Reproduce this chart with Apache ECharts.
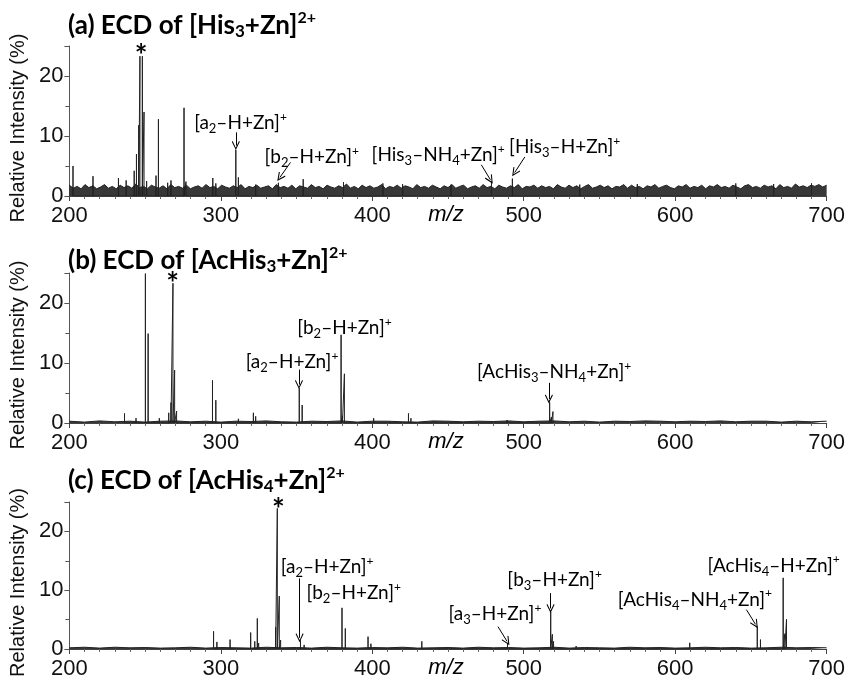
<!DOCTYPE html>
<html><head><meta charset="utf-8">
<script src="https://cdn.jsdelivr.net/npm/echarts@6/dist/echarts.min.js"></script>
<style>html,body{margin:0;padding:0;background:#fff}#c{width:848px;height:680px}</style>
</head><body><div id="c"></div>
<script>
// ---------- data ----------
const xTickValues = [200, 300, 400, 500, 600, 700];
const yTickValues = [0, 10, 20];

const panelTitles = [
  '{b|(a) ECD of [His}{bs|3}{b|+Zn]}{bp|2+}',
  '{b|(b) ECD of [AcHis}{bs|3}{b|+Zn]}{bp|2+}',
  '{b|(c) ECD of [AcHis}{bs|4}{b|+Zn]}{bp|2+}'
];

// peaks [m/z, relative intensity %]
const peaksA = [[202.4,5.0],[215.6,3.3],[232.4,3.0],[237.5,2.6],[242.8,4.2],[244.3,7.0],[245.8,11.8],[246.6,23.3],[248.2,23.3],[249.3,14.0],[251,2.5],[257.2,3.4],[258.8,12.8],[264.9,2.2],[267.1,2.6],[275.7,14.7],[277,2.4],[294.7,3.0],[296.7,2.1],[309.9,7.7],[311.6,3.1],[323,1.9],[338,2.2],[354.4,2.8],[381,2.3],[407,2.1],[420,2.0],[452,1.9],[478.7,2.4],[492.5,2.9],[537,1.9],[575,2.0],[640,2.1],[665,2.0],[690,2.1]];
const peaksB = [[236.4,1.6],[244,0.8],[250.2,24.9],[252,14.9],[259.4,0.8],[265.6,1.7],[267.1,3.4],[268.4,23.3],[269.5,8.8],[270.8,2.0],[294.5,7.1],[296.7,3.8],[311.6,0.7],[321.5,1.7],[323,1.1],[351.8,5.8],[353.7,3.0],[379.4,14.7],[380.3,1.2],[381.6,8.2],[400.9,0.8],[423.9,1.6],[425.5,0.8],[489,0.5],[517.1,3.45],[518.3,1.0],[519.3,1.9]];
const peaksC = [[295.2,3.0],[297.4,1.2],[306.1,1.6],[319.7,2.8],[322.4,1.3],[324.1,5.2],[325,1.0],[336.2,3.7],[337.3,23.9],[338.6,9.0],[339.5,1.5],[352.6,1.45],[355,0.7],[380,7.0],[382.2,3.5],[397.2,2.1],[399.1,0.9],[432.7,1.3],[489.3,1.05],[517.8,6.3],[518.9,2.5],[519.7,1.3],[534.6,0.5],[609.6,1.05],[654.2,3.8],[656.3,1.6],[671.3,12.1],[672.4,2.6],[673.5,5.05]];

// baseline noise level (upper edge), one value every 2.5 m/z from 200 to 700
const noiseA = [1.8,1.3,1.6,1.2,1.9,1.4,1.7,1.2,1.5,1.9,1.3,1.6,1.2,1.8,1.4,1.7,1.3,2.0,1.4,1.6,1.2,1.8,1.5,1.3,1.7,1.2,1.9,1.4,1.6,1.3,1.8,1.2,1.5,1.7,1.3,1.9,1.4,1.6,1.2,1.8,1.5,1.3,1.7,1.4,1.9,1.2,1.6,1.4,1.8,1.3,1.5,1.7,1.2,1.9,1.4,1.6,1.3,1.8,1.2,1.7,1.5,1.3,1.9,1.4,1.6,1.2,1.8,1.5,1.3,1.7,1.4,2.0,1.3,1.6,1.2,1.8,1.4,1.7,1.3,1.5,1.9,1.2,1.6,1.4,1.8,1.3,1.7,1.5,1.2,1.9,1.4,1.6,1.3,1.8,1.5,1.2,1.7,1.4,1.9,1.3,1.6,1.8,1.2,1.5,1.7,1.3,1.9,1.4,1.6,1.2,1.8,1.5,1.3,1.7,1.4,1.9,1.2,1.6,1.5,1.8,1.3,1.7,1.4,1.6,1.2,1.9,1.5,1.3,1.8,1.4,1.7,1.2,1.6,1.9,1.3,1.5,1.8,1.4,1.7,1.2,1.6,1.5,1.9,1.3,1.8,1.4,1.6,1.2,1.7,1.5,1.9,1.3,1.6,1.8,1.4,1.2,1.7,1.5,1.9,1.3,1.6,1.4,1.8,1.2,1.7,1.5,1.9,1.4,1.6,1.3,1.8,1.5,1.2,1.7,1.9,1.4,1.6,1.3,1.8,1.5,1.7,1.2,1.9,1.4,1.6,1.3,2.0,1.5,1.7,1.4,1.8,1.6,1.9,1.5,1.8];
const noiseB = [0.3,0.15,0.35,0.2,0.3,0.15,0.3,0.35,0.2,0.3,0.15,0.3,0.25,0.35,0.2,0.15,0.3,0.25,0.35,0.15,0.3,0.3,0.2,0.15,0.35,0.3,0.2,0.3,0.25,0.35,0.2,0.3,0.35,0.2,0.3,0.15,0.3,0.25,0.35,0.3,0.2,0.3,0.25,0.35,0.2,0.3,0.3,0.15,0.3,0.2,0.3];
const noiseC = [0.2,0.3,0.15,0.3,0.2,0.25,0.15,0.2,0.3,0.15,0.25,0.2,0.15,0.3,0.2,0.25,0.15,0.3,0.2,0.15,0.25,0.2,0.3,0.15,0.2,0.25,0.15,0.3,0.2,0.25,0.15,0.2,0.3,0.15,0.25,0.2,0.15,0.3,0.2,0.25,0.15,0.2,0.3,0.2,0.25,0.15,0.2,0.3,0.2,0.25,0.2];

// annotations: [label, m/z, intensity]
const labelsA = [['[a{s|2}–H+Zn]{p|+}',313,12.2],['[b{s|2}–H+Zn]{p|+}',360,6.55],['[His{s|3}–NH{s|4}+Zn]{p|+}',443.5,6.8],['[His{s|3}–H+Zn]{p|+}',527,8.2]];
const arrowsA = [[309.9,10.6,309.9,8.4],[346,5.6,339,3.1],[472,5.2,478,2.7],[500.7,6.5,494,3.9]];
const labelsB = [['[a{s|2}–H+Zn]{p|+}',347,10.2],['[b{s|2}–H+Zn]{p|+}',381.6,15.8],['[AcHis{s|3}–NH{s|4}+Zn]{p|+}',520,8.55]];
const arrowsB = [[351.6,8.9,351.6,6.4],[516.6,6.7,516.6,4.0]];
const labelsC = [['[a{s|2}–H+Zn]{p|+}',370.2,13.95],['[b{s|2}–H+Zn]{p|+}',387.7,9.5],['[a{s|3}–H+Zn]{p|+}',481,5.9],['[b{s|3}–H+Zn]{p|+}',520.4,11.7],['[AcHis{s|4}–NH{s|4}+Zn]{p|+}',613,8.4],['[AcHis{s|4}–H+Zn]{p|+}',665,14.2]];
const arrowsC = [[352,12,352,1.9],[483,3.8,489,1.3],[517.7,9.5,517.7,6.9],[647,6.7,653,4.2]];
const stars = [[247.4,24.6],[268.2,24.4],[338,25.0]];

// ---------- build ----------
function sticks(peaks) {
  const out = [];
  peaks.slice().sort((a,b)=>a[0]-b[0]).forEach(p => { out.push([p[0],0],[p[0],p[1]],[p[0],0]); });
  return out;
}
function noiseData(arr) {
  const step = 500 / (arr.length - 1);
  return arr.map((v,i)=>[200 + i*step, v]);
}
const tops = [46, 273, 502];
const gridH = 150;
const richSmall = {
  s: {fontSize: 13, fontFamily: 'Lato', padding: [12,0,0,0], color:'#000'},
  p: {fontSize: 12, fontFamily: 'Lato', padding: [0,0,12,0], color:'#000'}
};
const chev = 'path://M5,0 L10,9 L9,9.8 L5,2.6 L1,9.8 L0,9 Z';

const grids = [], xAxes = [], yAxes = [], series = [], titles = [];
const peaksAll = [peaksA, peaksB, peaksC];
const noiseAll = [noiseA, noiseB, noiseC];
const labelsAll = [labelsA, labelsB, labelsC];
const arrowsAll = [arrowsA, arrowsB, arrowsC];
const titleTops = [5, 240, 460];

for (let i = 0; i < 3; i++) {
  grids.push({left: 68, right: 20, top: tops[i], height: gridH});
  xAxes.push({
    type: 'value', gridIndex: i, min: 200, max: 700, interval: 100,
    name: 'm/z', nameLocation: 'middle', nameGap: 8, nameMoveOverlap: false,
    nameTextStyle: {fontFamily: 'Liberation Sans', fontStyle: 'italic', fontSize: 22, color: '#000', verticalAlign: 'top', padding:[0,0,0,-4]},
    axisLine: {lineStyle: {color: '#444', width: 1}},
    axisTick: {length: 5, lineStyle: {color: '#444'}},
    minorTick: {show: true, splitNumber: 10, length: 3, lineStyle: {color: '#666'}},
    splitLine: {show: false},
    axisLabel: {fontFamily: 'Liberation Sans', fontSize: 22, color: '#111', margin: 9,
      formatter: v => xTickValues.includes(v) ? String(v) : ''}
  });
  yAxes.push({
    type: 'value', gridIndex: i, min: 0, max: 25, interval: 10,
    name: 'Relative Intensity (%)', nameLocation: 'middle', nameGap: 24,
    nameTextStyle: {fontFamily: 'Liberation Sans', fontSize: 20, color: '#111', padding: [0,0,0,-14]},
    axisLine: {show: true, lineStyle: {color: '#555', width: 1}},
    axisTick: {show: true, length: 5, lineStyle: {color: '#555'}},
    minorTick: {show: true, splitNumber: 2, length: 4, lineStyle: {color: '#555'}},
    splitLine: {show: false},
    axisLabel: {fontFamily: 'Liberation Sans', fontSize: 22, color: '#111', margin: 6,
      formatter: v => yTickValues.includes(v) ? String(v) : ''}
  });
  titles.push({
    text: panelTitles[i], left: 63, top: titleTops[i],
    textStyle: {
      rich: {
        b: {fontFamily: 'Lato', fontWeight: 'bold', fontSize: 26, color: '#000'},
        bs: {fontFamily: 'Lato', fontWeight: 'bold', fontSize: 17, color: '#000', padding: [13,0,0,0]},
        bp: {fontFamily: 'Lato', fontWeight: 'bold', fontSize: 16, color: '#000', padding: [0,0,15,0]}
      }
    }
  });
  // noise band
  series.push({
    type: 'line', xAxisIndex: i, yAxisIndex: i, data: noiseData(noiseAll[i]),
    symbol: 'none', silent: true, animation: false,
    lineStyle: {color: '#222', width: 1},
    areaStyle: {color: '#222', opacity: 0.9}
  });
  const mp = labelsAll[i].map(l => ({
    coord: [l[1], l[2]],
    label: {formatter: l[0]}
  }));
  mp.push({coord: stars[i], label: {formatter: '*', fontSize: 30, fontWeight: 'bold', offset: [0, 8]}});
  series.push({
    type: 'line', xAxisIndex: i, yAxisIndex: i, data: sticks(peaksAll[i]),
    symbol: 'none', silent: true, animation: false,
    lineStyle: {color: '#222', width: 1},
    markPoint: {
      symbol: 'circle', symbolSize: 0, silent: true, animation: false,
      label: {show: true, position: 'inside', fontFamily: 'Lato', fontSize: 19, color: '#000', rich: richSmall},
      data: mp
    },
    markLine: {
      silent: true, animation: false, symbol: ['none', chev], symbolSize: [8, 9],
      lineStyle: {color: '#000', width: 1, type: 'solid'},
      label: {show: false},
      data: arrowsAll[i].map(a => [{coord: [a[0], a[1]]}, {coord: [a[2], a[3]]}])
    }
  });
}

const chart = echarts.init(document.getElementById('c'), null, {renderer: 'canvas'});
chart.setOption({
  animation: false, backgroundColor: '#fff',
  title: titles, grid: grids, xAxis: xAxes, yAxis: yAxes, series: series
});
</script>
</body></html>
